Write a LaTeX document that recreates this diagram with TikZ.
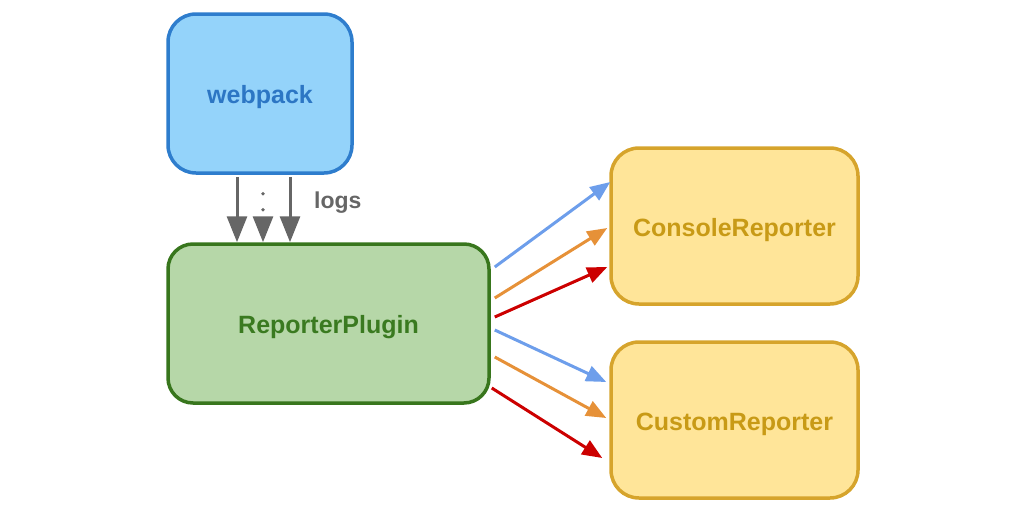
\documentclass[tikz,border=0pt]{standalone}
\usepackage{fontspec}
\setmainfont{Liberation Sans}
\usetikzlibrary{arrows.meta}
\definecolor{wpfill}{RGB}{148,211,250}
\definecolor{wpline}{RGB}{46,125,205}
\definecolor{wptext}{RGB}{44,118,196}
\definecolor{rpfill}{RGB}{182,215,168}
\definecolor{rpline}{RGB}{56,118,29}
\definecolor{rptext}{RGB}{58,122,32}
\definecolor{yfill}{RGB}{255,229,153}
\definecolor{yline}{RGB}{214,164,44}
\definecolor{ytext}{RGB}{200,154,22}
\definecolor{ablue}{RGB}{109,158,235}
\definecolor{aorange}{RGB}{230,145,56}
\definecolor{ared}{RGB}{204,0,0}
\definecolor{agray}{RGB}{102,102,102}
\begin{document}
\begin{tikzpicture}[x=1pt,y=-1pt,
  box/.style={draw, line width=3.5pt, rounded corners=28pt, inner sep=0pt,
    text height=25pt, text depth=5pt,
    font=\fontsize{25}{29}\selectfont\bfseries},
  garrow/.style={draw=agray, line width=3pt, -{Triangle[length=26pt,width=20pt]}},
  carrow/.style={line width=3pt, -{Triangle[length=20pt,width=16pt]}}]
\useasboundingbox (0,0) rectangle (1024,514);
\node[box, fill=wpfill, draw=wpline, text=wptext, minimum width=184pt, minimum height=159pt] (wp) at (260,93.5) {webpack};
\node[box, fill=rpfill, draw=rpline, text=rptext, rounded corners=25pt, minimum width=321pt, minimum height=159pt] (rp) at (328.5,323.5) {ReporterPlugin};
\node[box, fill=yfill, draw=yline, text=ytext, minimum width=247pt, minimum height=156pt] (cr) at (734.5,226) {ConsoleReporter};
\node[box, fill=yfill, draw=yline, text=ytext, minimum width=247pt, minimum height=156pt] (cu) at (734.5,420) {CustomReporter};
% gray log arrows
\draw[garrow] ([xshift=-23pt,yshift=-2pt]wp.south) -- ([xshift=-23pt]wp.south |- rp.north);
\draw[garrow] ([xshift=30pt,yshift=-2pt]wp.south) -- ([xshift=30pt]wp.south |- rp.north);
\draw[garrow] ([xshift=3pt,yshift=-44pt]wp.south) -- ([xshift=3pt]wp.south |- rp.north);
\coordinate (d1) at ([xshift=3pt,yshift=-19pt]wp.south);
\coordinate (d2) at ([xshift=3pt,yshift=-35pt]wp.south);
\fill[agray] (d1) circle (1.8pt) (d2) circle (1.8pt);
\node[text=agray, font=\fontsize{23}{27}\selectfont\bfseries, anchor=west, inner sep=0pt] (logs) at (314,203) {logs};
% colored arrows
\draw[carrow, draw=ablue] ([xshift=4pt,yshift=56.5pt]rp.east) -- ([xshift=1pt,yshift=44pt]cr.west);
\draw[carrow, draw=aorange] ([xshift=4pt,yshift=25.5pt]rp.east) -- ([xshift=-2pt,yshift=-2pt]cr.west);
\draw[carrow, draw=ared] ([xshift=4pt,yshift=6.5pt]rp.east) -- ([xshift=-2pt,yshift=-41pt]cr.west);
\draw[carrow, draw=ablue] ([xshift=4pt,yshift=-6.5pt]rp.east) -- ([xshift=-3pt,yshift=38pt]cu.west);
\draw[carrow, draw=aorange] ([xshift=4pt,yshift=-33.5pt]rp.east) -- ([xshift=-3pt,yshift=2pt]cu.west);
\draw[carrow, draw=ared] ([xshift=1pt,yshift=-64.5pt]rp.east) -- ([xshift=-7pt,yshift=-38pt]cu.west);
\end{tikzpicture}
\end{document}
